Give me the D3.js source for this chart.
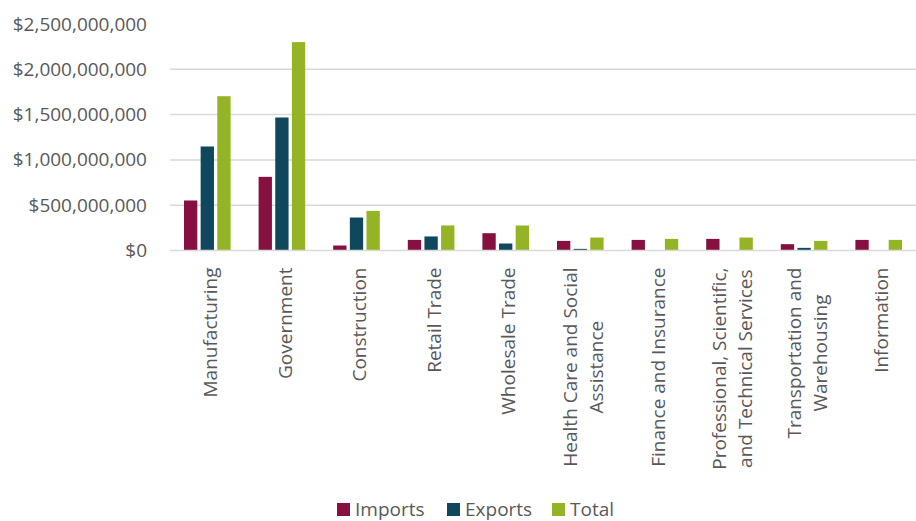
<!DOCTYPE html>
<html>
<head>
<meta charset="utf-8">
<script src="https://cdn.jsdelivr.net/npm/d3@7"></script>
<style>
  body { margin: 0; background: #fff; }
  svg text { font-family: "Open Sans", sans-serif; fill: #595959; }
</style>
</head>
<body>
<svg id="chart"></svg>
<script>
// data
const categories = [
    "Manufacturing", "Government", "Construction", "Retail Trade", "Wholesale Trade",
    "Health Care and Social\nAssistance", "Finance and Insurance",
    "Professional, Scientific,\nand Technical Services", "Transportation and\nWarehousing", "Information"
];
const seriesNames = ["Imports", "Exports", "Total"];
const imports = [552e6, 813e6, 55e6, 117e6, 191e6, 106e6, 117e6, 128e6, 70e6, 117e6];
const exports = [1148e6, 1468e6, 364e6, 155e6, 77e6, 18e6, 0, 0, 29e6, 0];
const totals = [1703e6, 2300e6, 437e6, 276e6, 276e6, 143e6, 128e6, 143e6, 106e6, 117e6];
const yTicks = [0, 500e6, 1000e6, 1500e6, 2000e6, 2500e6];

const width = 916;
const height = 521;
const margin = { top: 24, right: 0, bottom: 270.5, left: 170 };

const svg = d3.select("#chart").attr("width", width).attr("height", height);

const color = d3.scaleOrdinal()
    .domain(seriesNames)
    .range(["#86103f", "#0f485d", "#94b425"]);

const rows = categories.map((c, i) => ({
    cat: c,
    values: [imports[i], exports[i], totals[i]]
}));

const x = d3.scaleBand()
    .domain(categories)
    .range([margin.left, width - margin.right])
    .padding(0);

const groupPad = 14;
const xs = d3.scaleBand()
    .domain(seriesNames)
    .range([groupPad, x.bandwidth() - groupPad])
    .paddingInner(0.2)
    .paddingOuter(0);

const y = d3.scaleLinear()
    .domain([0, 2500e6])
    .range([height - margin.bottom, margin.top]);

// gridlines (no line at the top tick)
svg.append("g")
    .selectAll("line")
    .data(yTicks.filter(t => t > 0 && t < 2500e6))
    .join("line")
    .attr("x1", margin.left)
    .attr("x2", width - margin.right)
    .attr("y1", d => y(d))
    .attr("y2", d => y(d))
    .attr("stroke", "#d9d9d9")
    .attr("stroke-width", 1.5);

// y axis labels
const fmt = d3.format("$,.0f");
const yAxis = svg.append("g")
    .attr("transform", `translate(${margin.left - 23},0)`)
    .call(d3.axisLeft(y).tickValues(yTicks).tickSize(0).tickPadding(0).tickFormat(fmt));
yAxis.select(".domain").remove();
yAxis.selectAll("text")
    .attr("font-size", 19)
    .style("fill", "#595959")
    .style("font-family", "Open Sans, sans-serif");

// bars
svg.append("g")
    .selectAll("g")
    .data(rows)
    .join("g")
    .attr("transform", d => `translate(${x(d.cat)},0)`)
    .selectAll("rect")
    .data(d => d.values.map((v, j) => ({ key: seriesNames[j], value: v })))
    .join("rect")
    .attr("x", d => xs(d.key))
    .attr("y", d => y(d.value))
    .attr("width", xs.bandwidth())
    .attr("height", d => y(0) - y(d.value))
    .attr("fill", d => color(d.key));

// baseline
svg.append("line")
    .attr("x1", margin.left)
    .attr("x2", width - margin.right)
    .attr("y1", y(0))
    .attr("y2", y(0))
    .attr("stroke", "#d9d9d9")
    .attr("stroke-width", 1.5);

// rotated category labels, wrapped lines centred within the block
const lineH = 26;
const labelTop = y(0) + 17;
categories.forEach(c => {
    const lines = c.split("\n");
    const g = svg.append("g")
        .attr("transform", `translate(${x(c) + x.bandwidth() / 2 + 3},${labelTop}) rotate(-90)`);
    const texts = lines.map((ln, i) => g.append("text")
        .attr("font-size", 19)
        .attr("dy", "0.35em")
        .attr("y", (i - (lines.length - 1) / 2) * lineH)
        .text(ln));
    const maxLen = d3.max(texts, t => t.node().getComputedTextLength());
    texts.forEach(t => t.attr("text-anchor", "middle").attr("x", -maxLen / 2));
});

// legend
const legendX = [337, 447, 552];
const legend = svg.append("g")
    .selectAll("g")
    .data(seriesNames)
    .join("g")
    .attr("transform", (d, i) => `translate(${legendX[i]},503)`);
legend.append("rect")
    .attr("width", 13)
    .attr("height", 13)
    .attr("fill", d => color(d));
legend.append("text")
    .attr("x", 18)
    .attr("y", 6.5)
    .attr("dy", "0.35em")
    .attr("font-size", 19)
    .text(d => d);
</script>
</body>
</html>
